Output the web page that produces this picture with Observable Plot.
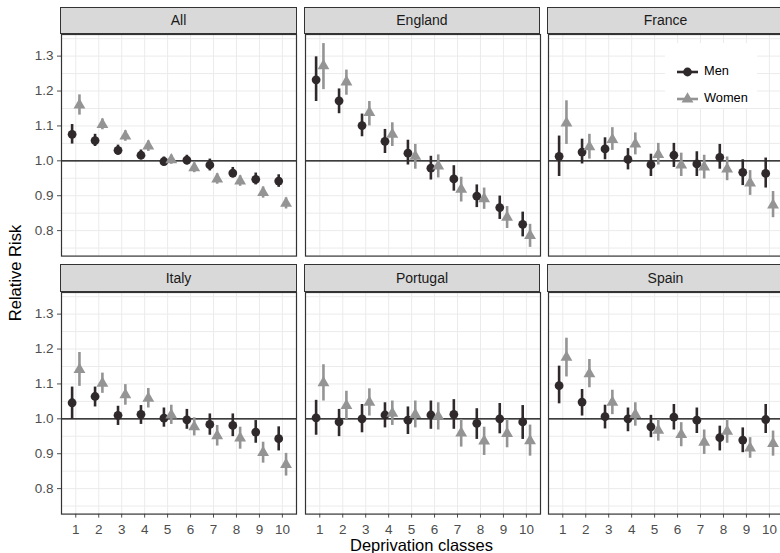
<!DOCTYPE html>
<html>
<head>
<meta charset="utf-8">
<script src="https://cdn.jsdelivr.net/npm/d3@7"></script>
<script src="https://cdn.jsdelivr.net/npm/@observablehq/plot@0.6"></script>
<style>
html, body { margin: 0; padding: 0; background: #fff; overflow: hidden; }
#chart { position: relative; width: 780px; height: 553px; overflow: hidden; font-family: "Liberation Sans", Arial, sans-serif; background: #fff; }
#chart svg { position: absolute; }
.strip { position: absolute; box-sizing: border-box; background: #d9d9d9; border: 1.2px solid #333; color: #1a1a1a; font-size: 14px; display: flex; align-items: center; justify-content: center; }
.title { position: absolute; color: #000; font-size: 16.5px; white-space: nowrap; }
#legend { position: absolute; background: #fff; }
.legtext { position: absolute; font-size: 12.8px; color: #000; white-space: nowrap; line-height: 1; }
</style>
</head>
<body>
<div id="chart"></div>
<script>
// ---------- data ----------
const panels = ["All", "England", "France", "Italy", "Portugal", "Spain"];
const classes = [1, 2, 3, 4, 5, 6, 7, 8, 9, 10];
const sexes = ["Men", "Women"];
const yTicks = [0.8, 0.9, 1.0, 1.1, 1.2, 1.3];
const yGrid = [0.75, 0.8, 0.85, 0.9, 0.95, 1.0, 1.05, 1.1, 1.15, 1.2, 1.25, 1.3, 1.35];

const menRR = [
  [1.076, 1.058, 1.030, 1.016, 0.998, 1.002, 0.988, 0.965, 0.947, 0.942],
  [1.232, 1.172, 1.101, 1.056, 1.022, 0.979, 0.948, 0.899, 0.866, 0.818],
  [1.013, 1.025, 1.034, 1.004, 0.989, 1.016, 0.991, 1.010, 0.967, 0.964],
  [1.046, 1.064, 1.010, 1.013, 1.002, 0.997, 0.984, 0.981, 0.962, 0.943],
  [1.003, 0.991, 1.000, 1.011, 0.996, 1.011, 1.013, 0.987, 1.000, 0.991],
  [1.095, 1.048, 1.006, 1.000, 0.977, 1.005, 0.996, 0.946, 0.939, 0.998]
];
const menLo = [
  [1.048, 1.041, 1.016, 1.003, 0.986, 0.988, 0.971, 0.951, 0.931, 0.924],
  [1.170, 1.135, 1.069, 1.021, 0.988, 0.945, 0.913, 0.866, 0.832, 0.782],
  [0.955, 0.991, 1.003, 0.974, 0.955, 0.981, 0.955, 0.976, 0.929, 0.922],
  [0.998, 1.034, 0.981, 0.984, 0.976, 0.970, 0.953, 0.949, 0.930, 0.908],
  [0.953, 0.949, 0.960, 0.974, 0.955, 0.970, 0.970, 0.941, 0.957, 0.941],
  [1.043, 1.008, 0.971, 0.963, 0.946, 0.968, 0.958, 0.908, 0.903, 0.958]
];
const menHi = [
  [1.104, 1.076, 1.045, 1.031, 1.011, 1.016, 1.005, 0.981, 0.965, 0.960],
  [1.298, 1.206, 1.134, 1.090, 1.059, 1.013, 0.986, 0.931, 0.899, 0.853],
  [1.071, 1.062, 1.066, 1.035, 1.019, 1.050, 1.026, 1.047, 1.003, 1.008],
  [1.091, 1.091, 1.036, 1.038, 1.031, 1.027, 1.014, 1.014, 0.995, 0.977],
  [1.053, 1.027, 1.041, 1.046, 1.034, 1.051, 1.055, 1.029, 1.044, 1.038],
  [1.151, 1.084, 1.039, 1.031, 1.010, 1.041, 1.031, 0.979, 0.974, 1.041]
];
const womenRR = [
  [1.160, 1.104, 1.071, 1.042, 1.003, 0.980, 0.948, 0.942, 0.909, 0.878],
  [1.272, 1.226, 1.138, 1.076, 1.013, 0.985, 0.918, 0.891, 0.838, 0.786],
  [1.108, 1.040, 1.061, 1.048, 1.018, 0.988, 0.982, 0.976, 0.936, 0.873],
  [1.141, 1.102, 1.069, 1.059, 1.011, 0.977, 0.951, 0.945, 0.903, 0.869],
  [1.103, 1.038, 1.047, 1.016, 1.012, 1.007, 0.959, 0.936, 0.958, 0.937],
  [1.176, 1.129, 1.047, 1.012, 0.967, 0.955, 0.933, 0.964, 0.916, 0.929]
];
const womenLo = [
  [1.131, 1.089, 1.056, 1.027, 0.990, 0.966, 0.933, 0.927, 0.893, 0.862],
  [1.204, 1.188, 1.100, 1.041, 0.976, 0.951, 0.882, 0.861, 0.806, 0.752],
  [1.047, 1.005, 1.030, 1.017, 0.988, 0.955, 0.948, 0.943, 0.901, 0.837],
  [1.093, 1.073, 1.039, 1.031, 0.984, 0.951, 0.922, 0.913, 0.873, 0.836],
  [1.051, 0.998, 1.008, 0.981, 0.974, 0.968, 0.919, 0.895, 0.917, 0.893],
  [1.120, 1.089, 1.012, 0.979, 0.936, 0.920, 0.898, 0.930, 0.887, 0.893]
];
const womenHi = [
  [1.189, 1.120, 1.086, 1.057, 1.016, 0.994, 0.963, 0.957, 0.925, 0.894],
  [1.336, 1.260, 1.170, 1.109, 1.047, 1.017, 0.953, 0.922, 0.869, 0.818],
  [1.172, 1.076, 1.095, 1.080, 1.050, 1.022, 1.016, 1.011, 0.972, 0.912],
  [1.190, 1.131, 1.098, 1.087, 1.039, 1.003, 0.981, 0.976, 0.933, 0.901],
  [1.155, 1.079, 1.086, 1.051, 1.051, 1.046, 0.998, 0.976, 0.998, 0.982],
  [1.231, 1.170, 1.082, 1.046, 0.998, 0.989, 0.968, 0.998, 0.946, 0.965]
];

// ---------- style / layout ----------
const FONT = '"Liberation Sans", Arial, sans-serif';
const menColor = "#2f292b", womenColor = "#949494";
const dodge = 0.16;
const xDomain = [0.378, 10.615];
const yDomain = [0.727, 1.362];
const panelLeft = [61, 304.5, 548];
const panelW = 235;
const plotTop = [33.5, 291.7];
const plotH = 221.6;
const stripTop = [6.5, 264];

const chart = document.getElementById("chart");

function rowsFor(p) {
  const out = [];
  classes.forEach((c, j) => out.push({sex: "Men", x: c - dodge, rr: menRR[p][j], lo: menLo[p][j], hi: menHi[p][j]}));
  classes.forEach((c, j) => out.push({sex: "Women", x: c + dodge, rr: womenRR[p][j], lo: womenLo[p][j], hi: womenHi[p][j]}));
  return out;
}

panels.forEach((name, p) => {
  const row = Math.floor(p / 3), col = p % 3;
  const ml = col === 0 ? 61 : 2, mr = 2, mt = 2, mb = row === 1 ? 42 : 2;
  const data = rowsFor(p);
  const fig = Plot.plot({
    width: panelW + ml + mr,
    height: plotH + mt + mb,
    marginLeft: ml, marginRight: mr, marginTop: mt, marginBottom: mb,
    style: {fontFamily: FONT, fontSize: "13.5px", color: "#4d4d4d", background: "transparent", overflow: "visible"},
    x: {domain: xDomain, axis: row === 1 ? "bottom" : null, ticks: classes, tickSize: 4, tickPadding: 6, tickFormat: d => String(d), label: null},
    y: {domain: yDomain, axis: col === 0 ? "left" : null, ticks: yTicks, tickSize: 4, tickPadding: 4, tickFormat: d3.format(".1f"), label: null},
    symbol: {domain: sexes, range: ["circle", "triangle"]},
    color: {domain: sexes, range: [menColor, womenColor]},
    marks: [
      Plot.ruleY(yGrid, {stroke: "#ebebeb", strokeWidth: 1}),
      Plot.ruleX(classes, {stroke: "#ebebeb", strokeWidth: 1}),
      Plot.ruleY([1], {stroke: "#000", strokeWidth: 1.3}),
      Plot.ruleX(data, {x: "x", y1: "lo", y2: "hi", stroke: "sex", strokeWidth: 2.6}),
      Plot.dot(data, {x: "x", y: "rr", fill: "sex", symbol: "sex", r: 4.4, stroke: "none"}),
      Plot.frame({stroke: "#333", strokeWidth: 1.2})
    ]
  });
  fig.style.left = (panelLeft[col] - ml) + "px";
  fig.style.top = (plotTop[row] - mt) + "px";
  chart.appendChild(fig);
});

// strips
panels.forEach((name, p) => {
  const row = Math.floor(p / 3), col = p % 3;
  const s = document.createElement("div");
  s.className = "strip";
  s.textContent = name;
  s.style.left = (panelLeft[col] - 0.6) + "px";
  s.style.top = stripTop[row] + "px";
  s.style.width = (panelW + 1.2) + "px";
  s.style.height = (plotTop[row] - stripTop[row] + 0.6) + "px";
  chart.appendChild(s);
});

// axis titles
const xt = document.createElement("div");
xt.className = "title";
xt.textContent = "Deprivation classes";
xt.style.left = "421.5px"; xt.style.top = "545px";
xt.style.transform = "translate(-50%, -50%)";
chart.appendChild(xt);

const yt = document.createElement("div");
yt.className = "title";
yt.textContent = "Relative Risk";
yt.style.left = "15px"; yt.style.top = "273px";
yt.style.transform = "translate(-50%, -50%) rotate(-90deg)";
chart.appendChild(yt);

// legend
const leg = document.createElement("div");
leg.id = "legend";
leg.style.left = "665px"; leg.style.top = "43px";
leg.style.width = "92px"; leg.style.height = "65px";
chart.appendChild(leg);
const legSvg = d3.create("svg").attr("width", 92).attr("height", 65).style("position", "absolute").style("left", "0px").style("top", "0px");
const legRows = [{sex: "Men", y: 29, color: menColor, sym: d3.symbolCircle}, {sex: "Women", y: 56, color: womenColor, sym: d3.symbolTriangle}];
legRows.forEach(r => {
  legSvg.append("line").attr("x1", 12).attr("x2", 33).attr("y1", r.y).attr("y2", r.y).attr("stroke", r.color).attr("stroke-width", 2.6);
  legSvg.append("path").attr("d", d3.symbol(r.sym, Math.PI * 4.4 * 4.4)()).attr("transform", `translate(22.5,${r.y})`).attr("fill", r.color);
});
leg.appendChild(legSvg.node());
legRows.forEach(r => {
  const t = document.createElement("div");
  t.className = "legtext";
  t.textContent = r.sex;
  t.style.left = "39px";
  t.style.top = (r.y - 7) + "px";
  leg.appendChild(t);
});
</script>
</body>
</html>
